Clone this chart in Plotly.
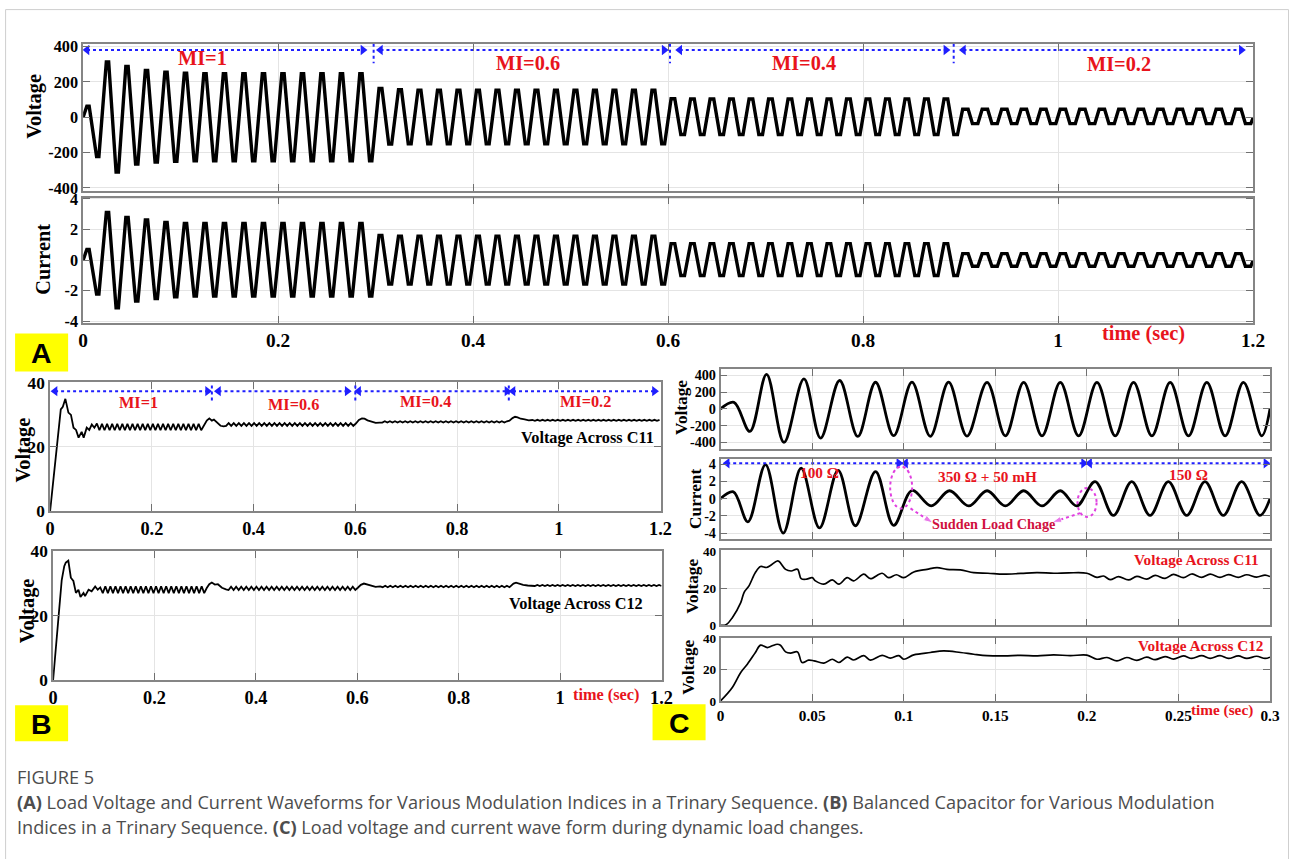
import plotly.graph_objects as go
import bisect

# The page is photographed as a fixed region and resized to 1290x859; the
# figure sits behind the body's default 8px margin.  Layout positions below are
# given in the reference picture's pixels and converted to paper fractions.
REF_W, REF_H = 1290, 859
BODY = 8
CAP_X0, CAP_Y0, CAP_W, CAP_H = 3.0, -1.4, 1308.0, 877.4
W, H = 1304, 870
FS = 1.017  # font compensation for the resize
BLUE = "#1f1fff"
RED = "#e8141c"
MAG = "#e040e0"
SERIF = "Liberation Serif"

# ---------------- Panel A data (load voltage / current, 50 Hz) ----------------
A_period = 0.02
A_first_peak = 0.005
A_first_trough = 0.015
A_seg_bounds = [0.0, 0.3, 0.6, 0.9, 1.2]
A_mi_labels = ["MI=1", "MI=0.6", "MI=0.4", "MI=0.2"]
A_volt_peaks = [62, 312, 287, 264, 255, 248, 246, 246, 246, 246, 246, 246, 246, 246, 246,
                162, 155, 153, 152, 152, 152, 152, 152, 152, 152, 152, 152, 152, 152, 152,
                104, 103, 103, 103, 103, 103, 103, 103, 103, 103, 103, 103, 103, 103, 103,
                45, 45, 45, 45, 45, 45, 45, 45, 45, 45, 45, 45, 45, 45, 45]
A_volt_troughs = [-222, -310, -265, -254, -249, -247, -246, -246, -246, -246, -246, -246, -246, -246, -246,
                  -152, -150, -150, -150, -150, -150, -150, -150, -150, -150, -150, -150, -150, -150, -150,
                  -98, -98, -98, -98, -98, -98, -98, -98, -98, -98, -98, -98, -98, -98, -98,
                  -36, -36, -36, -36, -36, -36, -36, -36, -36, -36, -36, -36, -36, -36, -36]
A_curr_peaks = [0.70, 3.12, 2.80, 2.63, 2.46, 2.40, 2.40, 2.40, 2.40, 2.40, 2.40, 2.40, 2.40, 2.40, 2.40,
                1.62, 1.57, 1.57, 1.57, 1.57, 1.57, 1.57, 1.57, 1.57, 1.57, 1.57, 1.57, 1.57, 1.57, 1.57,
                1.08, 1.08, 1.08, 1.08, 1.08, 1.08, 1.08, 1.08, 1.08, 1.08, 1.08, 1.08, 1.08, 1.08, 1.08,
                0.42, 0.42, 0.42, 0.42, 0.42, 0.42, 0.42, 0.42, 0.42, 0.42, 0.42, 0.42, 0.42, 0.42, 0.42]
A_curr_troughs = [-2.23, -3.12, -2.68, -2.52, -2.41, -2.35, -2.35, -2.35, -2.35, -2.35, -2.35, -2.35, -2.35, -2.35, -2.35,
                  -1.57, -1.57, -1.57, -1.57, -1.57, -1.57, -1.57, -1.57, -1.57, -1.57, -1.57, -1.57, -1.57, -1.57, -1.57,
                  -1.01, -1.01, -1.01, -1.01, -1.01, -1.01, -1.01, -1.01, -1.01, -1.01, -1.01, -1.01, -1.01, -1.01, -1.01,
                  -0.40, -0.40, -0.40, -0.40, -0.40, -0.40, -0.40, -0.40, -0.40, -0.40, -0.40, -0.40, -0.40, -0.40, -0.40]
A_volt_end = -5
A_curr_end = -0.05
A_xticks = [0, 0.2, 0.4, 0.6, 0.8, 1.0, 1.2]
A_xticklabels = ["0", "0.2", "0.4", "0.6", "0.8", "1", "1.2"]
A_vticks = [-400, -200, 0, 200, 400]
A_vticklabels = ["-400", "-200", "0", "200", "400"]
A_cticks = [-4, -2, 0, 2, 4]
A_cticklabels = ["-4", "-2", "0", "2", "4"]
# annotation positions (seconds)
A_arrow_from = [0.004, 0.305, 0.612, 0.903]
A_arrow_to = [0.287, 0.596, 0.885, 1.188]
A_div_x = [0.298, 0.602, 0.893]
A_label_x = [0.122, 0.456, 0.739, 1.063]
A_label_y = [334, 309, 309, 298]

# ---------------- Panel B data (capacitor voltages, MI steps) ----------------
B_ripple_half = 0.005
B_c11_trans_t = [[0, 0.021, 0.025, 0.030, 0.036, 0.041, 0.046, 0.051, 0.056, 0.062, 0.066, 0.072, 0.077, 0.082, 0.087, 0.092],
                 [0.302, 0.308, 0.313, 0.318, 0.322, 0.328, 0.335, 0.341],
                 [0.601, 0.607, 0.613, 0.618, 0.624, 0.632, 0.640, 0.648],
                 [0.903, 0.909, 0.914, 0.919, 0.925, 0.933, 0.941, 0.948]]
B_c11_trans_v = [[0, 31.7, 32.5, 35.0, 30.7, 30.0, 26.0, 25.3, 22.9, 24.7, 22.9, 26.0, 25.3, 27.0, 26.0, 27.3],
                 [26.5, 28.2, 28.9, 28.2, 28.5, 27.6, 26.6, 26.4],
                 [27.3, 28.4, 28.9, 28.8, 28.3, 27.8, 27.5, 27.6],
                 [28.2, 29.0, 29.4, 29.2, 28.8, 28.6, 28.3, 28.4]]
B_c11_rip_start = [0.097, 0.346, 0.653, 0.953]
B_c11_rip_end = [0.297, 0.596, 0.898, 1.198]
B_c11_rip_mean = [26.2, 27.0, 27.8, 28.3]
B_c11_rip_amp = [1.0, 0.45, 0.2, 0.15]

B_c12_trans_t = [[0, 0.017, 0.022, 0.025, 0.030, 0.035, 0.040, 0.045, 0.050, 0.054, 0.060, 0.063, 0.070, 0.076, 0.083, 0.088, 0.093],
                 [0.303, 0.308, 0.313, 0.319, 0.325, 0.333, 0.341],
                 [0.601, 0.607, 0.613, 0.619, 0.627, 0.636, 0.645],
                 [0.903, 0.908, 0.913, 0.919, 0.927, 0.936, 0.945]]
B_c12_trans_v = [[0, 31.0, 35.3, 36.4, 37.0, 31.7, 30.7, 27.0, 28.0, 25.7, 27.0, 26.0, 28.0, 27.5, 29.0, 28.0, 28.7],
                 [28.5, 29.7, 30.2, 29.6, 29.7, 28.6, 28.1],
                 [28.6, 29.5, 29.9, 29.7, 29.2, 28.9, 29.0],
                 [29.2, 29.9, 30.2, 29.9, 29.5, 29.3, 29.3]]
B_c12_rip_start = [0.098, 0.346, 0.650, 0.950]
B_c12_rip_end = [0.298, 0.596, 0.900, 1.200]
B_c12_rip_mean = [28.0, 28.4, 29.0, 29.3]
B_c12_rip_amp = [1.05, 0.5, 0.22, 0.15]
B_xticks = A_xticks
B_xticklabels = A_xticklabels
B_yticks = [0, 20, 40]
B_yticklabels = ["0", "20", "40"]
B_arrow_from = [0.0098, 0.331, 0.6065, 0.910]
B_arrow_to = [0.3095, 0.584, 0.898, 1.188]
B_div_x = [0.318, 0.600, 0.9017]
B_label_x = [0.1737, 0.4787, 0.7378, 1.0525]
B_label_y = [33.8, 33.0, 34.0, 34.0]

# ---------------- Panel C data (dynamic load change, 0-0.3 s) ----------------
C_volt_t = [0.000, 0.0073, 0.0160, 0.0251, 0.0346, 0.0455, 0.0546, 0.0650, 0.0749, 0.0846, 0.0945,
            0.1045, 0.1145, 0.1245, 0.1345, 0.1455, 0.1555, 0.1655, 0.1755, 0.1855, 0.1955,
            0.2055, 0.2155, 0.2255, 0.2355, 0.2455, 0.2555, 0.2655, 0.2755, 0.2855, 0.2955, 0.3000]
C_volt_v = [0, 79, -269, 412, -400, 360, -348, 340, -329, 319, -320,
            320, -329, 320, -325, 318, -322, 318, -322, 318, -322,
            318, -322, 318, -322, 318, -322, 318, -322, 318, -322, 0]
C_curr_t = [0.000, 0.0070, 0.0149, 0.0245, 0.0342, 0.0440, 0.0540, 0.0642, 0.0736, 0.0846, 0.0945,
            0.1045, 0.1150, 0.1250, 0.1355, 0.1455, 0.1555, 0.1655, 0.1755, 0.1855, 0.1945,
            0.2045, 0.2145, 0.2245, 0.2345, 0.2445, 0.2545, 0.2645, 0.2745, 0.2845, 0.2945, 0.3000]
C_curr_v = [0, 0.79, -2.69, 3.95, -4.0, 3.55, -3.4, 3.3, -3.15, 3.15, -3.1,
            0.95, -0.85, 0.92, -0.85, 0.92, -0.85, 0.92, -0.85, 0.92, -0.85,
            1.98, -1.95, 1.98, -1.95, 1.98, -1.95, 1.98, -1.95, 1.98, -1.95, 0]
C_c11_t = [0.000, 0.003, 0.0064, 0.0110, 0.0128, 0.0155, 0.0190, 0.0218, 0.0250, 0.0270,
           0.0309, 0.0320, 0.0355, 0.0385, 0.0420, 0.0440, 0.0470, 0.0500, 0.0518, 0.0564,
           0.0610, 0.0646, 0.0691, 0.0727, 0.0782, 0.0818, 0.0882, 0.0918, 0.0960, 0.1000,
           0.1055, 0.1127, 0.1182, 0.1236, 0.1310, 0.1382, 0.1460, 0.1546, 0.1640, 0.1727,
           0.1820, 0.1900, 0.2000, 0.2055, 0.2091, 0.2127, 0.2173, 0.2227, 0.2273, 0.2327,
           0.2373, 0.2427, 0.2473, 0.2527, 0.2573, 0.2627, 0.2673, 0.2727, 0.2773, 0.2827,
           0.2873, 0.2927, 0.2973, 0.3000]
C_c11_v = [0.0, 0.3, 4.1, 12.2, 17.6, 21.2, 28.4, 31.6, 31.1, 32.0,
           34.6, 34.3, 30.1, 29.2, 30.1, 25.1, 24.8, 25.6, 23.9, 22.1,
           24.4, 22.1, 25.6, 23.9, 27.5, 25.1, 28.0, 25.6, 27.2, 25.6,
           28.7, 30.1, 31.0, 30.1, 29.8, 28.3, 28.0, 27.5, 27.9, 28.3,
           28.0, 28.2, 28.0, 25.8, 26.5, 24.6, 26.2, 24.4, 26.3, 24.8,
           26.8, 25.2, 27.4, 25.6, 27.6, 25.8, 27.5, 25.8, 27.3, 25.8,
           27.2, 25.9, 27.0, 26.2]
C_c12_t = [0.000, 0.0064, 0.0110, 0.0146, 0.0190, 0.0218, 0.0255, 0.0282, 0.0309, 0.0327,
           0.0355, 0.0382, 0.0420, 0.0445, 0.0480, 0.0510, 0.0564, 0.0610, 0.0646, 0.0691,
           0.0727, 0.0782, 0.0818, 0.0882, 0.0927, 0.0973, 0.1000, 0.1055, 0.1145, 0.1218,
           0.1310, 0.1382, 0.1455, 0.1550, 0.1636, 0.1730, 0.1818, 0.1910, 0.2000, 0.2055,
           0.2110, 0.2164, 0.2218, 0.2273, 0.2327, 0.2373, 0.2427, 0.2473, 0.2527, 0.2573,
           0.2627, 0.2673, 0.2727, 0.2773, 0.2827, 0.2873, 0.2927, 0.2973, 0.3000]
C_c12_v = [0.0, 8.6, 18.2, 23.5, 31.0, 35.7, 34.2, 35.3, 36.3, 35.7,
           31.4, 30.6, 31.4, 24.6, 26.1, 25.7, 24.2, 26.7, 24.6, 28.0,
           26.2, 29.0, 26.1, 29.2, 27.4, 29.0, 26.7, 29.5, 31.0, 32.0,
           31.0, 29.9, 29.0, 28.8, 29.2, 28.9, 29.5, 29.0, 29.3, 26.7,
           27.8, 25.6, 27.8, 26.0, 28.0, 26.4, 28.4, 26.8, 28.8, 27.2,
           29.0, 27.3, 29.0, 27.2, 28.8, 27.2, 28.6, 27.2, 28.0]
C_xticks = [0, 0.05, 0.1, 0.15, 0.2, 0.25, 0.3]
C_xticklabels = ["0", "0.05", "0.1", "0.15", "0.2", "0.25", "0.3"]
C_vticks = [-400, -200, 0, 200, 400]
C_vticklabels = ["-400", "-200", "0", "200", "400"]
C_cticks = [-4, -2, 0, 2, 4]
C_cticklabels = ["-4", "-2", "0", "2", "4"]
C_capticks = [0, 20, 40]
C_capticklabels = ["0", "20", "40"]
C_load_labels = ["100 \u03a9", "350 \u03a9 + 50 mH", "150 \u03a9"]
C_arrow_from = [0.0036, 0.101, 0.2015]
C_arrow_to = [0.0973, 0.1982, 0.2978]
C_label_x = [0.0542, 0.146, 0.2553]
C_label_y = [3.1, 2.6, 2.84]

assert len(A_volt_peaks) == len(A_volt_troughs) == len(A_curr_peaks) == len(A_curr_troughs) == 60
assert len(C_c11_t) == len(C_c11_v) and len(C_c12_t) == len(C_c12_v)
assert len(C_volt_t) == len(C_volt_v) and len(C_curr_t) == len(C_curr_v)


# ---------------- helpers (reference px -> paper fraction) ----------------
def PX(x):
    page = CAP_X0 + x * CAP_W / REF_W
    return (page - BODY) / W


def PY(y):
    page = CAP_Y0 + y * CAP_H / REF_H
    return 1 - (page - BODY) / H


def F(s):
    return round(s * FS, 2)


A_plateau = [0.0012, 0.0015, 0.0019, 0.0028]  # half-width of stepped tops (shape)


def build_A(peaks, troughs, end_val):
    xs, ys = [0.0], [0.0]
    for k in range(len(peaks)):
        tp = A_first_peak + A_period * k
        tt = A_first_trough + A_period * k
        seg = bisect.bisect_right(A_seg_bounds, tp) - 1
        w = A_plateau[seg]
        xs += [tp - w, tp + w, tt - w, tt + w]
        ys += [peaks[k], peaks[k], troughs[k], troughs[k]]
    xs.append(A_seg_bounds[-1])
    ys.append(end_val)
    return xs, ys


def build_cap(trans_t, trans_v, rs, re_, rm, ra, half):
    xs, ys = [], []
    for i in range(len(trans_t)):
        xs += trans_t[i]
        ys += trans_v[i]
        n = int(round((re_[i] - rs[i]) / half))
        for j in range(n + 1):
            xs.append(rs[i] + j * half)
            ys.append(rm[i] + (ra[i] if j % 2 else -ra[i]))
    return xs, ys


fig = go.Figure()


def add_line(x, y, xa, ya, width, shape="linear"):
    fig.add_trace(go.Scatter(x=x, y=y, xaxis=xa, yaxis=ya, mode="lines",
                             line=dict(color="black", width=width, shape=shape),
                             hoverinfo="skip", showlegend=False))


def add_double_arrow(x0, x1, y, xa, ya):
    fig.add_trace(go.Scatter(x=[x0, x1], y=[y, y], xaxis=xa, yaxis=ya, mode="lines+markers",
                             line=dict(color=BLUE, width=2, dash="dot"),
                             marker=dict(symbol=["triangle-left", "triangle-right"], size=9, color=BLUE),
                             hoverinfo="skip", showlegend=False))


def add_arrow(x0, y0, x1, y1, xa, ya, color):
    fig.add_trace(go.Scatter(x=[x0, x1], y=[y0, y1], xaxis=xa, yaxis=ya, mode="lines+markers",
                             line=dict(color=color, width=2, dash="dot"),
                             marker=dict(symbol=["circle", "arrow"], size=[0, 10], color=color,
                                         angleref="previous"),
                             hoverinfo="skip", showlegend=False))


# ---------------- traces ----------------
ax, ay = build_A(A_volt_peaks, A_volt_troughs, A_volt_end)
add_line(ax, ay, "x", "y", 3.4)
cx, cy = build_A(A_curr_peaks, A_curr_troughs, A_curr_end)
add_line(cx, cy, "x2", "y2", 3.4)

bx, by = build_cap(B_c11_trans_t, B_c11_trans_v, B_c11_rip_start, B_c11_rip_end,
                   B_c11_rip_mean, B_c11_rip_amp, B_ripple_half)
add_line(bx, by, "x3", "y3", 1.8)
bx2, by2 = build_cap(B_c12_trans_t, B_c12_trans_v, B_c12_rip_start, B_c12_rip_end,
                     B_c12_rip_mean, B_c12_rip_amp, B_ripple_half)
add_line(bx2, by2, "x4", "y4", 1.8)

add_line(C_volt_t, C_volt_v, "x5", "y5", 2.8, "spline")
add_line(C_curr_t, C_curr_v, "x6", "y6", 2.8, "spline")
add_line(C_c11_t, C_c11_v, "x7", "y7", 1.7, "spline")
add_line(C_c12_t, C_c12_v, "x8", "y8", 1.7, "spline")

# arrows
for i in range(4):
    add_double_arrow(A_arrow_from[i], A_arrow_to[i], 380, "x", "y")
    add_double_arrow(B_arrow_from[i], B_arrow_to[i], 37.4, "x3", "y3")
for i in range(3):
    add_double_arrow(C_arrow_from[i], C_arrow_to[i], 4.12, "x6", "y6")
add_arrow(0.1037, -1.14, 0.116, -2.84, "x6", "y6", MAG)
add_arrow(0.1964, -1.68, 0.181, -2.76, "x6", "y6", MAG)


# ---------------- axes ----------------
def mk_axis(domain, rng, anchor, tickvals, ticktext, fs, show=True):
    return dict(domain=domain, range=rng, anchor=anchor, tickmode="array",
                tickvals=tickvals, ticktext=ticktext, showticklabels=show,
                showline=True, linecolor="#858585", linewidth=1.5, mirror="ticks",
                ticks="inside", ticklen=7, tickwidth=1.2, tickcolor="#707070",
                showgrid=True, gridcolor="#e4e4e4", gridwidth=1, zeroline=False,
                fixedrange=True,
                tickfont=dict(family=SERIF, size=F(fs), color="black", weight="bold"))


def XD(a, b):
    return [PX(a), PX(b)]


def YD(top, bottom):
    return [PY(bottom), PY(top)]


AXD = (83, 1252)
BXD1 = (50, 660)
BXD2 = (53, 661)
CXD = (720, 1269)
layout_axes = {
    "xaxis": mk_axis(XD(*AXD), [0, 1.2], "y", A_xticks, A_xticklabels, 19, False),
    "yaxis": mk_axis(YD(44, 191), [-415, 415], "x", A_vticks, A_vticklabels, 16),
    "xaxis2": mk_axis(XD(*AXD), [0, 1.2], "y2", A_xticks, A_xticklabels, 19),
    "yaxis2": mk_axis(YD(198, 323), [-4.09, 4.09], "x2", A_cticks, A_cticklabels, 16),
    "xaxis3": mk_axis(XD(*BXD1), [0, 1.2], "y3", B_xticks, B_xticklabels, 18),
    "yaxis3": mk_axis(YD(382.7, 511.7), [0, 40.2], "x3", B_yticks, B_yticklabels, 17),
    "xaxis4": mk_axis(XD(*BXD2), [0, 1.2], "y4", B_xticks, B_xticklabels, 18),
    "yaxis4": mk_axis(YD(551.7, 680.7), [0, 40], "x4", B_yticks, B_yticklabels, 17),
    "xaxis5": mk_axis(XD(*CXD), [0, 0.3], "y5", C_xticks, C_xticklabels, 15, False),
    "yaxis5": mk_axis(YD(369.3, 450), [-484, 480], "x5", C_vticks, C_vticklabels, 14),
    "xaxis6": mk_axis(XD(*CXD), [0, 0.3], "y6", C_xticks, C_xticklabels, 15, False),
    "yaxis6": mk_axis(YD(459.3, 539.3), [-4.65, 4.65], "x6", C_cticks, C_cticklabels, 14),
    "xaxis7": mk_axis(XD(*CXD), [0, 0.3], "y7", C_xticks, C_xticklabels, 15, False),
    "yaxis7": mk_axis(YD(550.7, 626), [0, 40.5], "x7", C_capticks, C_capticklabels, 13),
    "xaxis8": mk_axis(XD(*CXD), [0, 0.3], "y8", C_xticks, C_xticklabels, 15),
    "yaxis8": mk_axis(YD(638.3, 701.7), [0, 40.6], "x8", C_capticks, C_capticklabels, 13),
}

# ---------------- annotations ----------------
ann = []


def ptext(text, x, y, size, color="black", angle=0, family=SERIF, xanchor="center", bold=True):
    ann.append(dict(text=("<b>%s</b>" % text) if bold else text, x=PX(x), y=PY(y),
                    xref="paper", yref="paper", showarrow=False, textangle=angle,
                    xanchor=xanchor, yanchor="middle",
                    font=dict(family=family, size=F(size), color=color)))


def dtext(text, x, y, xr, yr, size, color):
    ann.append(dict(text="<b>%s</b>" % text, x=x, y=y, xref=xr, yref=yr, showarrow=False,
                    xanchor="center", yanchor="middle",
                    font=dict(family=SERIF, size=F(size), color=color)))


# y-axis titles
ptext("Voltage", 35, 107, 20, angle=-90)
ptext("Current", 42, 260, 20, angle=-90)
ptext("Voltage", 23, 451, 20, angle=-90)
ptext("Voltage", 27, 612, 20, angle=-90)
ptext("Voltage", 681, 408, 17, angle=-90)
ptext("Current", 695, 500, 17, angle=-90)
ptext("Voltage", 692, 587, 17, angle=-90)
ptext("Voltage", 688, 668, 17, angle=-90)

# time labels
ptext("time (sec)", 1143, 334, 20, RED)
ptext("time (sec)", 605, 696, 16, RED)
ptext("time (sec)", 1221, 711, 15, RED)

# MI labels
for i in range(4):
    dtext(A_mi_labels[i], A_label_x[i], A_label_y[i], "x", "y", 20, RED)
    dtext(A_mi_labels[i], B_label_x[i], B_label_y[i], "x3", "y3", 16, RED)
for i in range(3):
    dtext(C_load_labels[i], C_label_x[i], C_label_y[i], "x6", "y6", 15, RED)
dtext("Sudden Load Chage", 0.1488, -2.96, "x6", "y6", 14, "#d01040")
dtext("Voltage Across C11", 1.0559, 22.65, "x3", "y3", 16, "black")
dtext("Voltage Across C12", 1.0316, 23.5, "x4", "y4", 16, "black")
dtext("Voltage Across C11", 0.260, 35.5, "x7", "y7", 15, RED)
dtext("Voltage Across C12", 0.2619, 35.7, "x8", "y8", 15, RED)

# panel letters
shapes = []
for (x0, y0, x1, y1, letter) in [(15, 334, 68, 372, "A"), (15, 706, 68, 742, "B"), (652, 705, 705, 741, "C")]:
    shapes.append(dict(type="rect", xref="paper", yref="paper", x0=PX(x0), x1=PX(x1),
                       y0=PY(y1), y1=PY(y0), fillcolor="#ffff00", line=dict(width=0), layer="below"))
    ptext(letter, (x0 + x1) / 2, (y0 + y1) / 2 + 1, 28, "black", family="Liberation Sans")

# caption
CAP = "#4d4d4d"
ptext("FIGURE 5", 15, 778, 17.85, CAP, family="Open Sans", xanchor="left", bold=False)
ptext("<b>(A)</b> Load Voltage and Current Waveforms for Various Modulation Indices in a Trinary Sequence. "
      "<b>(B)</b> Balanced Capacitor for Various Modulation", 15, 803, 17.85, CAP, family="Open Sans",
      xanchor="left", bold=False)
ptext("Indices in a Trinary Sequence. <b>(C)</b> Load voltage and current wave form during dynamic load changes.",
      15, 828, 17.85, CAP, family="Open Sans", xanchor="left", bold=False)

# dotted dividers
for xv in A_div_x:
    shapes.append(dict(type="line", xref="x", yref="y", x0=xv, x1=xv, y0=415, y1=305,
                       line=dict(color=BLUE, width=2, dash="dot")))
for xv in B_div_x:
    shapes.append(dict(type="line", xref="x3", yref="y3", x0=xv, x1=xv, y0=39.2, y1=33.6,
                       line=dict(color=BLUE, width=2, dash="dot")))
# ellipses marking sudden load change
shapes.append(dict(type="circle", xref="x6", yref="y6", x0=0.0926, x1=0.1046, y0=-1.13, y1=3.73,
                   line=dict(color=MAG, width=2, dash="dot")))
shapes.append(dict(type="circle", xref="x6", yref="y6", x0=0.1949, x1=0.2053, y0=-2.12, y1=1.24,
                   line=dict(color=MAG, width=2, dash="dot")))
# outer frame
shapes.append(dict(type="rect", xref="paper", yref="paper", x0=max(PX(4.5), 0.6 / W),
                   x1=PX(1287.5), y0=-0.1, y1=min(PY(5.5), 1 - 0.6 / H),
                   line=dict(color="#cfcfcf", width=1)))

fig.update_layout(width=W, height=H, margin=dict(l=0, r=0, t=0, b=0),
                  paper_bgcolor="white", plot_bgcolor="white", showlegend=False,
                  hovermode=False, annotations=ann, shapes=shapes, **layout_axes)

fig.write_html("out.html")
